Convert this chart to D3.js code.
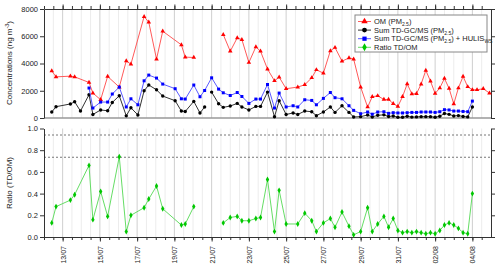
<!DOCTYPE html>
<html>
<head>
<meta charset="utf-8">
<script src="https://cdn.jsdelivr.net/npm/d3@7"></script>
<style>
  body { margin: 0; background: #fff; }
  text { font-family: Arial, "Liberation Sans", sans-serif; fill: #222; }
</style>
</head>
<body>
<svg id="chart" width="500" height="267"></svg>
<script>
// sampling times (dd/mm HH:MM)
const times = [
  "12/07 10:00","12/07 15:30","13/07 10:00","13/07 15:30","13/07 23:00","14/07 10:00","14/07 15:00",
  "15/07 01:00","15/07 10:00","15/07 16:00","16/07 01:00","16/07 10:00","16/07 16:00","17/07 01:00",
  "17/07 09:00","17/07 15:00","18/07 01:00","18/07 09:00","19/07 01:00","19/07 09:00","19/07 14:00",
  "20/07 01:00","20/07 09:00","20/07 15:00","21/07 00:00","21/07 09:00","21/07 15:00","22/07 00:00",
  "22/07 09:00","22/07 15:00","23/07 00:00","23/07 09:00","23/07 15:00","24/07 00:00","24/07 09:00",
  "24/07 15:00","25/07 00:00","25/07 09:00","25/07 15:00","26/07 00:00","26/07 09:00","26/07 15:00",
  "27/07 00:00","27/07 09:00","27/07 15:00","28/07 00:00","28/07 09:00","28/07 15:00","29/07 00:00",
  "29/07 09:00","29/07 15:00","29/07 22:00","30/07 06:00","30/07 12:00","30/07 18:00","31/07 00:00",
  "31/07 06:00","31/07 12:00","31/07 18:00","01/08 00:00","01/08 06:00","01/08 12:00","01/08 18:00",
  "02/08 00:00","02/08 06:00","02/08 12:00","02/08 18:00","03/08 00:00","03/08 06:00","03/08 12:00",
  "03/08 18:00","04/08 00:00","04/08 06:00","04/08 14:00","04/08 22:00"
];

// OM (PM2.5), ng m-3
const om = [
  3460,3020,3070,3020,null,2610,1830,
  1340,3050,null,2270,4190,3950,null,
  7440,7030,4320,6370,null,5370,4470,
  4440,null,null,null,null,6120,4900,
  5880,5750,4070,5220,4900,3590,2730,
  3000,2150,null,2270,2440,2950,3540,
  3290,4930,5170,4170,4410,4320,2270,
  805,1560,1630,1360,1360,1050,850,
  1560,2500,1770,1790,2490,3500,2700,
  1800,2200,2900,2170,1030,2200,3050,
  2290,2070,2070,2150,1830
];

// Sum TD-GC/MS (PM2.5)
const td = [
  440,830,1030,1190,510,1710,260,
  590,530,1140,1630,160,750,220,
  2000,2420,2070,1610,1270,510,480,
  1220,370,810,1900,1050,780,880,
  1070,810,590,850,850,1900,95,
  1270,260,370,260,510,460,170,
  440,810,410,900,410,75,100,
  220,75,200,230,110,150,55,
  60,130,65,80,100,100,100,
  60,130,330,270,150,175,115,
  80,805,null,null,null
];

// Sum TD-GC/MS (PM2.5) + HULIS WS
const tdHulis = [
  null,null,null,null,null,2200,730,
  1170,1170,1760,2270,810,1410,970,
  2730,3150,2930,2490,2150,1410,1390,
  2420,1560,2020,2950,2120,1850,1650,
  1870,1580,1070,1390,1390,2460,730,
  1830,810,900,810,1340,1290,970,
  1440,1870,1490,1410,900,560,315,
  440,280,440,460,340,390,370,
  370,390,410,410,440,440,440,
  410,460,610,590,510,510,480,
  460,1240,null,null,null
];

// Ratio TD/OM
const ratio = [
  0.13,0.28,0.34,0.39,null,0.66,0.16,
  0.42,0.19,null,0.74,0.05,0.20,null,
  0.27,0.35,0.47,0.26,null,0.11,0.12,
  0.28,null,null,null,null,0.13,0.18,
  0.19,0.15,0.15,0.17,0.18,0.53,0.05,
  0.43,0.12,null,0.12,0.22,0.15,0.05,
  0.13,0.17,0.09,0.23,0.10,0.02,0.05,
  0.27,0.05,0.12,0.19,0.09,0.17,0.06,
  0.04,0.05,0.04,0.05,0.04,0.03,0.04,
  0.03,0.06,0.11,0.13,0.11,0.08,0.04,
  0.03,0.40,null,null,null
];

// lines are cut before these samples (nulls are just skipped)
const omBreaks = ["21/07 15:00"];
const tdBreaks = ["21/07 00:00"];
const ratioBreaks = ["21/07 15:00"];

const dateLabels = ["13/07","15/07","17/07","19/07","21/07","23/07","25/07","27/07","29/07","31/07","02/08","04/08"];
const concTicks = [0, 2000, 4000, 6000, 8000];
const ratioTicks = [0, 0.2, 0.4, 0.6, 0.8, 1.0];
const refLines = [0.94, 0.735];

const parse = d3.timeParse("%d/%m %H:%M");
const svg = d3.select("#chart");

const x = d3.scaleTime().domain([parse("12/07 00:00"), parse("05/08 00:00")]).range([44, 491]);
const yTop = d3.scaleLinear().domain([0, 8000]).range([118, 9]);
const yBot = d3.scaleLinear().domain([0, 1]).range([237, 128.5]);

const halfDays = d3.timeHour.every(12).range(x.domain()[0], x.domain()[1]);
const labelDates = dateLabels.map(d => parse(d + " 00:00"));
const isLabel = d => labelDates.some(l => +l === +d);

// vertical grid
[[9, 118], [128.5, 237]].forEach(([y0, y1]) => {
  svg.append("g").selectAll("line").data(halfDays.slice(1)).enter().append("line")
    .attr("x1", d => x(d)).attr("x2", d => x(d))
    .attr("y1", y0).attr("y2", y1)
    .attr("stroke", d => isLabel(d) ? "#cfcfcf" : "#ececec")
    .attr("stroke-width", 1);
});

// reference dashed lines
svg.append("g").selectAll("line").data(refLines).enter().append("line")
  .attr("x1", 44).attr("x2", 491)
  .attr("y1", d => yBot(d)).attr("y2", d => yBot(d))
  .attr("stroke", "#777").attr("stroke-width", 1).attr("stroke-dasharray", "2,2");

// zero line of upper panel
svg.append("line").attr("x1", 44).attr("x2", 491).attr("y1", yTop(0)).attr("y2", yTop(0))
  .attr("stroke", "#999").attr("stroke-width", 1.5);

function styleAxis(g) {
  g.selectAll("path, line").attr("stroke", "#333");
  g.selectAll("text").style("font-size", "7.5px").attr("fill", "#222");
}

// axes - upper panel
svg.append("g").attr("transform", "translate(44,0)")
  .call(d3.axisLeft(yTop).tickValues(concTicks).tickSize(4).tickSizeOuter(0).tickPadding(2).tickFormat(d3.format("d")))
  .call(styleAxis);
svg.append("g").attr("transform", "translate(491,0)")
  .call(d3.axisRight(yTop).tickValues(concTicks).tickSize(4).tickSizeOuter(0).tickFormat(""))
  .call(styleAxis);
svg.append("g").attr("transform", "translate(0,9)")
  .call(d3.axisTop(x).tickValues(halfDays).tickSize(3).tickSizeOuter(0).tickFormat(""))
  .call(styleAxis);
svg.append("g").attr("transform", "translate(0,9)")
  .call(d3.axisTop(x).tickValues(labelDates).tickSize(4.5).tickFormat(""))
  .call(g => g.select(".domain").remove()).call(styleAxis);

// axes - lower panel
svg.append("g").attr("transform", "translate(44,0)")
  .call(d3.axisLeft(yBot).tickValues(ratioTicks).tickSize(4).tickSizeOuter(0).tickPadding(2).tickFormat(d3.format(".1f")))
  .call(styleAxis);
svg.append("g").attr("transform", "translate(491,0)")
  .call(d3.axisRight(yBot).tickValues(ratioTicks).tickSize(4).tickSizeOuter(0).tickFormat(""))
  .call(styleAxis);
svg.append("g").attr("transform", "translate(0,237)")
  .call(d3.axisBottom(x).tickValues(halfDays).tickSize(3).tickSizeOuter(0).tickFormat(""))
  .call(styleAxis);
svg.append("g").attr("transform", "translate(0,237)")
  .call(d3.axisBottom(x).tickValues(labelDates).tickSize(4.5).tickFormat(d3.timeFormat("%d/%m")))
  .call(g => g.select(".domain").remove())
  .call(styleAxis)
  .call(g => g.selectAll("text")
    .style("font-size", "7px")
    .attr("transform", "rotate(-90)")
    .attr("x", -9).attr("y", 0).attr("dy", "0.35em")
    .attr("text-anchor", "end"));

// axis titles
const t1 = svg.append("text").attr("transform", "translate(12,63) rotate(-90)")
  .attr("text-anchor", "middle").style("font-size", "8px");
t1.append("tspan").text("Concentrations (ng m");
t1.append("tspan").attr("dy", -3).style("font-size", "5.5px").text("-3");
t1.append("tspan").attr("dy", 3).text(")");
svg.append("text").attr("transform", "translate(12,183) rotate(-90)")
  .attr("text-anchor", "middle").style("font-size", "8px").text("Ratio (TD/OM)");

function drawSeries(y, vals, breaks, lineColor, markColor, shape, size) {
  const pts = times.map((t, i) => ({ k: t, t: parse(t), v: vals[i] })).filter(d => d.v != null);
  const segs = [];
  pts.forEach(d => {
    if (!segs.length || breaks.includes(d.k)) segs.push([]);
    segs[segs.length - 1].push(d);
  });
  const line = d3.line().x(d => x(d.t)).y(d => y(d.v));
  const g = svg.append("g");
  g.selectAll("path.l").data(segs).enter().append("path").attr("class", "l")
    .attr("d", line).attr("fill", "none").attr("stroke", lineColor).attr("stroke-width", 1);
  g.selectAll("path.m").data(pts).enter().append("path").attr("class", "m")
    .attr("transform", d => "translate(" + x(d.t) + "," + y(d.v) + ")")
    .attr("d", d3.symbol().type(shape).size(size))
    .attr("fill", markColor);
}

drawSeries(yTop, om, omBreaks, "#ff5a5a", "#ff0000", d3.symbolTriangle, 9);
drawSeries(yTop, td, tdBreaks, "#333333", "#000000", d3.symbolCircle, 9);
drawSeries(yTop, tdHulis, [], "#5a5aff", "#0000ff", d3.symbolSquare, 9);
drawSeries(yBot, ratio, ratioBreaks, "#66dd66", "#00c800", d3.symbolDiamond, 10);

// legend
const leg = svg.append("g").attr("transform", "translate(355,15)");
leg.append("rect").attr("width", 132).attr("height", 37)
  .attr("fill", "#fff").attr("stroke", "#888").attr("stroke-width", 1);
const legItems = [
  { c: "#ff5a5a", m: "#ff0000", s: d3.symbolTriangle, parts: [["OM (PM"], ["2.5", 1], [")"]] },
  { c: "#333333", m: "#000000", s: d3.symbolCircle, parts: [["Sum TD-GC/MS (PM"], ["2.5", 1], [")"]] },
  { c: "#5a5aff", m: "#0000ff", s: d3.symbolSquare, parts: [["Sum TD-GC/MS (PM"], ["2.5", 1], [") + HULIS"], ["WS", 1]] },
  { c: "#66dd66", m: "#00c800", s: d3.symbolDiamond, parts: [["Ratio TD/OM"]] }
];
legItems.forEach((it, i) => {
  const yy = 6.5 + i * 8.6;
  leg.append("line").attr("x1", 3).attr("x2", 16).attr("y1", yy).attr("y2", yy)
    .attr("stroke", it.c).attr("stroke-width", 1);
  leg.append("path").attr("transform", "translate(9.5," + yy + ")")
    .attr("d", d3.symbol().type(it.s).size(18)).attr("fill", it.m);
  const tx = leg.append("text").attr("x", 19).attr("y", yy).attr("dy", "0.35em").style("font-size", "7.5px");
  let sub = false;
  it.parts.forEach(p => {
    const ts = tx.append("tspan").text(p[0]);
    if (p[1] && !sub) { ts.attr("dy", 1.8).style("font-size", "5px"); sub = true; }
    else if (!p[1] && sub) { ts.attr("dy", -1.8); sub = false; }
  });
});
</script>
</body>
</html>
